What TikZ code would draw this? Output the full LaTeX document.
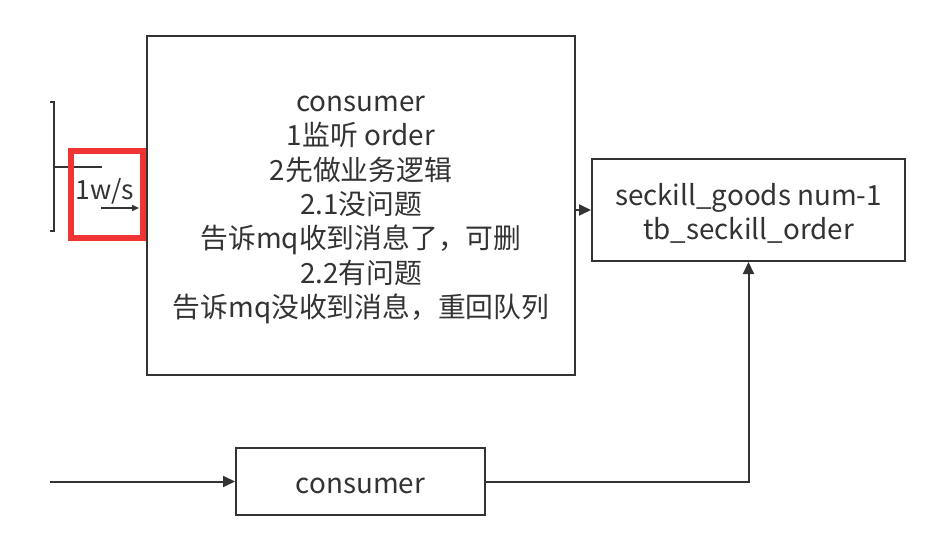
\documentclass[tikz,border=0pt]{standalone}
\usepackage{fontspec}
\setmainfont{Noto Sans CJK SC}
\usetikzlibrary{arrows.meta}
\definecolor{ink}{RGB}{51,51,51}
\definecolor{redbox}{RGB}{240,52,52}
\begin{document}
\begin{tikzpicture}[x=1pt,y=-1pt,
  box/.style={draw=ink, line width=2pt, inner sep=0pt},
  txt/.style={text=ink, align=center, inner sep=0pt,
              font=\fontsize{27.8}{34.3}\selectfont},
  conn/.style={draw=ink, line width=2pt, -{Triangle[length=12pt,width=11pt]}},
  small/.style={draw=ink, line width=1.5pt, -{Triangle[length=7pt,width=6pt]}},
  lbl/.style={text=ink, inner sep=0pt, font=\fontsize{26.5}{30}\selectfont}]
\useasboundingbox[fill=white] (0,0) rectangle (932,535);
% boxes
\node[box, minimum width=428pt, minimum height=339pt] (big) at (361,205.5) {};
\node[txt] (bigtext) at ([yshift=-4.5pt]big.center)
  {consumer\\1监听 order\\2先做业务逻辑\\2.1没问题\\告诉mq收到消息了，可删\\2.2有问题\\告诉mq没收到消息，重回队列};
\node[box, minimum width=313pt, minimum height=102pt] (right) at (748.5,210) {};
\node[txt] (righttext) at ([yshift=-3.5pt]right.center)
  {seckill\_goods num-1\\tb\_seckill\_order};
\node[box, minimum width=249pt, minimum height=67pt] (bot) at (360.5,481.5) {};
\node[txt] (bottext) at ([yshift=-4pt]bot.center) {consumer};
% connectors
\coordinate (in) at (50,481.5);
\draw[conn] (big.east |- right.west) -- (right.west);
\draw[conn] (in) -- (bot.west);
\draw[conn] (bot.east) -| (right.south);
% left bracket and rate label
\draw[ink, line width=2pt] (50,102) -- (54,102) -- (54,231) -- (50,231);
\draw[ink, line width=2pt] (54,167) -- (102,167);
\node[lbl] (rate) at (105,191) {1w/s};
\coordinate (sa) at (101,208);
\coordinate (sb) at (139,208);
\draw[small] (sa) -- (sb);
% red highlight
\draw[redbox, line width=6pt] (71,151) rectangle (143,238);
\end{tikzpicture}
\end{document}
